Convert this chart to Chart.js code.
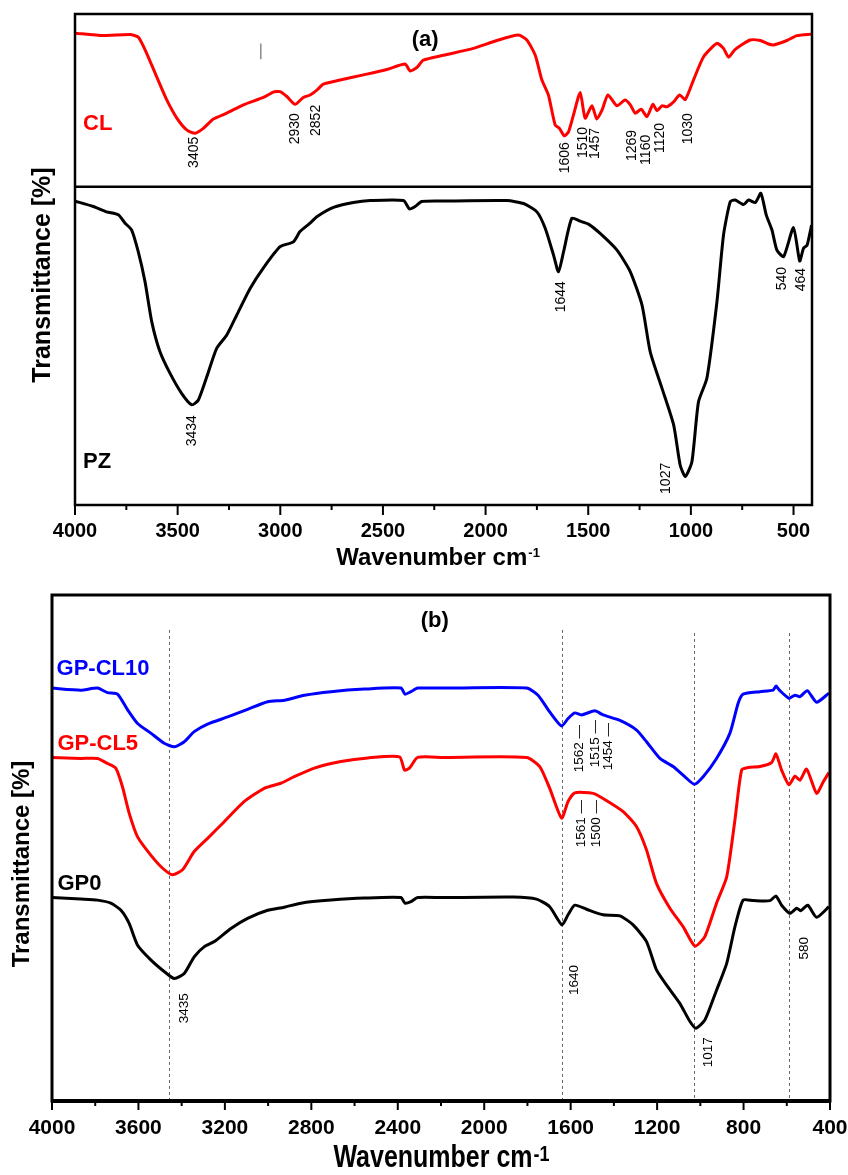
<!DOCTYPE html>
<html>
<head>
  <title>FTIR spectra</title>
  <script src="https://cdn.jsdelivr.net/npm/chart.js"></script>
  <style>
    body { margin: 0; background: white; }
    .panel { position: absolute; left: 0; }
  </style>
</head>
<body>
  <canvas id="chartA" class="panel" style="top:0" width="848" height="580"></canvas>
  <canvas id="chartB" class="panel" style="top:580px" width="848" height="595"></canvas>

  <script>
    // ---- panel (a) ----
    const ticksA = [4000, 3500, 3000, 2500, 2000, 1500, 1000, 500];

    const clWave = [4000, 3862, 3732, 3692, 3651, 3602, 3553, 3504, 3456, 3415, 3375, 3326, 3261, 3180, 3082,
      3034, 3001, 2968, 2928, 2888, 2855, 2822, 2790, 2725, 2595, 2481, 2392, 2368, 2335, 2303, 2205, 2059, 1945,
      1840, 1799, 1758, 1726, 1694, 1661, 1640, 1617, 1596, 1572, 1539, 1515, 1482, 1458, 1433, 1404, 1360, 1320,
      1295, 1271, 1242, 1214, 1185, 1165, 1141, 1117, 1084, 1055, 1027, 987, 938, 873, 841, 816, 784, 711, 662,
      629, 597, 532, 483, 412];
    const clT = [96.1, 95.6, 95.8, 95.3, 92.0, 87.2, 82.5, 78.8, 76.4, 75.7, 76.7, 78.6, 79.8, 81.5, 83.0,
      84.1, 84.2, 83.2, 81.6, 83.0, 83.5, 84.5, 85.7, 86.4, 87.6, 88.7, 89.8, 88.4, 89.1, 90.6, 91.6, 93.0, 94.6,
      95.7, 94.7, 91.6, 86.6, 83.5, 77.4, 76.7, 75.2, 76.0, 79.4, 84.0, 78.8, 81.3, 78.6, 80.4, 83.5, 81.3, 82.5,
      81.5, 79.8, 80.6, 79.1, 81.6, 80.3, 81.3, 81.1, 82.1, 83.5, 82.6, 86.6, 91.3, 94.0, 93.0, 91.2, 92.8, 94.7,
      94.6, 94.0, 93.7, 94.6, 95.6, 95.9];

    const pzWave = [4000, 3911, 3846, 3789, 3756, 3724, 3692, 3659, 3626, 3586, 3537, 3480, 3431, 3399, 3358,
      3310, 3261, 3212, 3147, 3082, 3001, 2936, 2904, 2855, 2822, 2741, 2644, 2562, 2400, 2371, 2343, 2311, 2205,
      1896, 1815, 1750, 1710, 1669, 1645, 1620, 1580, 1539, 1499, 1442, 1360, 1295, 1238, 1198, 1141, 1084, 1052,
      1027, 995, 963, 922, 873, 841, 808, 784, 743, 719, 686, 659, 633, 605, 581, 548, 500, 470, 451, 434, 412];
    const pzT = [61.9, 60.8, 59.7, 59.1, 57.4, 56.0, 51.6, 45.5, 37.3, 31.2, 26.8, 22.7, 20.4, 21.4, 26.1,
      31.9, 34.6, 38.7, 44.1, 48.3, 52.6, 53.6, 55.7, 57.4, 58.7, 60.6, 61.6, 62.0, 62.0, 60.3, 60.8, 61.8, 61.9,
      62.0, 61.4, 59.7, 56.4, 50.9, 47.5, 51.6, 58.4, 57.8, 57.2, 55.3, 51.9, 47.5, 40.7, 31.2, 23.8, 16.3, 8.1,
      5.8, 8.8, 21.0, 25.8, 41.4, 55.0, 61.8, 62.1, 61.2, 62.1, 61.6, 63.5, 59.1, 56.0, 51.9, 50.6, 56.5, 49.7,
      52.3, 52.9, 57.0];

    const peaksA = [
      { t: '3405', w: 3420, v: 75.0 }, { t: '2930', w: 2928, v: 79.8 }, { t: '2852', w: 2826, v: 81.5 },
      { t: '1606', w: 1612, v: 73.9 }, { t: '1510', w: 1526, v: 77.0 }, { t: '1457', w: 1466, v: 76.8 },
      { t: '1269', w: 1287, v: 76.4 }, { t: '1160', w: 1217, v: 75.4 }, { t: '1120', w: 1149, v: 77.8 },
      { t: '1030', w: 1013, v: 79.8 },
      { t: '3434', w: 3431, v: 18.3 }, { t: '1644', w: 1633, v: 45.6 }, { t: '1027', w: 1122, v: 8.6 },
      { t: '540', w: 556, v: 48.5 }, { t: '464', w: 464, v: 48.3 }
    ];
    const namesA = [
      { t: 'CL', w: 3961, v: 76.4, c: '#ff0000' },
      { t: 'PZ', w: 3961, v: 7.5, c: '#000000' }
    ];

    // ---- panel (b) ----
    const ticksB = [4000, 3600, 3200, 2800, 2400, 2000, 1600, 1200, 800, 400];

    const cl10Wave = [4000, 3867, 3789, 3743, 3697, 3650, 3604, 3543, 3481, 3434, 3388, 3342, 3280, 3187, 3095,
      3002, 2925, 2832, 2709, 2555, 2385, 2367, 2339, 2308, 2192, 1804, 1751, 1697, 1642, 1612, 1581, 1550, 1488,
      1450, 1372, 1295, 1249, 1187, 1126, 1072, 1028, 987, 925, 863, 825, 802, 724, 663, 650, 632, 590, 562, 539,
      505, 462, 405];
    const cl10T = [81.6, 81.2, 81.6, 80.7, 80.4, 77.3, 74.6, 72.7, 70.7, 70.0, 71.0, 73.0, 74.5, 75.9, 77.4,
      78.9, 79.2, 80.2, 80.9, 81.4, 81.6, 80.4, 80.9, 81.6, 81.6, 81.6, 80.2, 76.9, 74.1, 75.6, 76.7, 76.3, 77.1,
      76.3, 75.2, 73.3, 71.0, 67.7, 66.1, 64.1, 62.6, 64.1, 67.7, 72.7, 78.6, 80.4, 80.9, 81.2, 82.0, 81.1, 79.6,
      80.2, 79.9, 81.1, 78.8, 80.6];

    const cl5Wave = [4000, 3867, 3789, 3743, 3705, 3674, 3643, 3604, 3543, 3488, 3442, 3396, 3342, 3280, 3203,
      3110, 3018, 2941, 2879, 2786, 2663, 2539, 2392, 2369, 2346, 2308, 2192, 1804, 1743, 1697, 1642, 1612, 1581,
      1496, 1450, 1357, 1295, 1249, 1203, 1141, 1079, 1025, 979, 925, 878, 840, 809, 778, 724, 670, 650, 624, 590,
      562, 539, 508, 462, 431, 405];
    const cl5T = [67.9, 67.7, 67.7, 66.7, 65.8, 62.1, 56.9, 52.2, 48.6, 46.0, 44.7, 45.7, 49.3, 51.9, 55.2,
      59.2, 61.8, 62.8, 64.1, 65.8, 67.1, 67.8, 68.0, 65.4, 65.8, 67.9, 67.9, 67.9, 66.1, 61.8, 55.9, 59.2, 60.9,
      60.8, 59.8, 57.2, 54.2, 49.6, 43.0, 38.1, 34.4, 30.6, 32.5, 39.1, 44.3, 55.5, 65.4, 65.9, 66.1, 66.9, 68.6,
      65.4, 62.5, 64.2, 63.4, 65.6, 60.8, 63.1, 64.9];

    const gp0Wave = [4000, 3867, 3789, 3728, 3681, 3643, 3604, 3543, 3481, 3434, 3388, 3342, 3295, 3249, 3172,
      3095, 3002, 2925, 2848, 2709, 2555, 2385, 2367, 2339, 2308, 2192, 1866, 1758, 1697, 1640, 1612, 1581, 1527,
      1450, 1372, 1311, 1249, 1203, 1156, 1095, 1048, 1021, 979, 925, 878, 840, 802, 755, 678, 650, 624, 585, 554,
      536, 503, 462, 405];
    const gp0T = [40.2, 39.9, 39.7, 39.1, 37.7, 35.1, 30.8, 27.9, 25.6, 24.2, 25.2, 28.5, 30.5, 31.5, 34.1,
      36.1, 37.7, 38.3, 39.1, 39.7, 40.1, 40.2, 39.1, 39.4, 40.2, 40.2, 40.3, 39.9, 38.4, 34.8, 36.8, 38.7, 37.9,
      36.8, 36.6, 34.8, 31.5, 25.9, 22.9, 19.3, 15.7, 14.4, 16.0, 21.9, 27.2, 34.4, 39.7, 39.6, 39.6, 40.5, 38.7,
      37.1, 38.1, 37.6, 38.7, 36.3, 38.4];

    const peaksB = [
      { t: '3435', w: 3388, v: 21.3 },
      { t: '1562 \u2014', w: 1558, v: 74.3 }, { t: '1515 \u2014', w: 1488, v: 75.3 }, { t: '1454 \u2014', w: 1427, v: 74.7 },
      { t: '1561 \u2014', w: 1550, v: 59.5 }, { t: '1500 \u2014', w: 1480, v: 59.5 },
      { t: '1640', w: 1581, v: 26.9 }, { t: '1017', w: 964, v: 12.6 }, { t: '580', w: 519, v: 32.4 }
    ];
    const namesB = [
      { t: 'GP-CL10', w: 3979, v: 84.2, c: '#0000ff' },
      { t: 'GP-CL5', w: 3975, v: 69.4, c: '#ff0000' },
      { t: 'GP0', w: 3975, v: 41.7, c: '#000000' }
    ];
    const guideWave = [3457, 1640, 1029, 590];
    const guideTop = [93.1, 93.1, 92.5, 92.5];

    const SANS = '"Liberation Sans", Arial, sans-serif';
    Chart.defaults.font.family = SANS;
    Chart.defaults.color = '#000';

    function pts(ws, vs) {
      return ws.map((w, i) => ({ x: w, y: vs[i] }));
    }

    function rotText(ctx, text, x, y, align) {
      ctx.save();
      ctx.translate(x, y);
      ctx.rotate(-Math.PI / 2);
      ctx.textAlign = align;
      ctx.textBaseline = 'middle';
      ctx.fillText(text, 0, 0);
      ctx.restore();
    }

    // frame, ticks, titles and peak labels
    function decor(o) {
      return {
        id: 'decor',
        beforeDatasetsDraw(chart) {
          if (!o.guides) return;
          const { ctx, scales: { x, y } } = chart;
          ctx.save();
          ctx.strokeStyle = '#666';
          ctx.lineWidth = 1;
          ctx.setLineDash([3, 3]);
          o.guides.forEach((w, i) => {
            const px = Math.round(x.getPixelForValue(w)) + 0.5;
            ctx.beginPath();
            ctx.moveTo(px, y.getPixelForValue(o.guideTop[i]));
            ctx.lineTo(px, y.getPixelForValue(0));
            ctx.stroke();
          });
          ctx.restore();
        },
        afterDatasetsDraw(chart) {
          const { ctx, chartArea: a, scales: { x, y } } = chart;
          ctx.save();
          ctx.strokeStyle = '#000';
          ctx.fillStyle = '#000';

          // box and dividers
          ctx.lineWidth = o.frame;
          ctx.strokeRect(a.left, a.top, a.right - a.left, a.bottom - a.top);
          (o.dividers || []).forEach(v => {
            const py = y.getPixelForValue(v);
            ctx.beginPath();
            ctx.moveTo(a.left, py);
            ctx.lineTo(a.right, py);
            ctx.stroke();
          });
          if (o.bottom) {
            ctx.lineWidth = o.bottom;
            ctx.beginPath();
            ctx.moveTo(a.left, a.bottom);
            ctx.lineTo(a.right, a.bottom);
            ctx.stroke();
          }

          // outward ticks, long on labelled values, short half way
          ctx.lineWidth = 2;
          o.ticks.forEach((t, i) => {
            const marks = [[t, o.major]];
            if (i < o.ticks.length - 1) marks.push([(t + o.ticks[i + 1]) / 2, o.minor]);
            marks.forEach(([w, len]) => {
              const px = x.getPixelForValue(w);
              ctx.beginPath();
              ctx.moveTo(px, a.bottom);
              ctx.lineTo(px, a.bottom + len);
              ctx.stroke();
            });
          });

          // stray mark in the CL box
          if (o.stray) {
            ctx.strokeStyle = '#8a8a8a';
            ctx.lineWidth = 1.5;
            const px = x.getPixelForValue(o.stray.w);
            ctx.beginPath();
            ctx.moveTo(px, y.getPixelForValue(o.stray.v1));
            ctx.lineTo(px, y.getPixelForValue(o.stray.v2));
            ctx.stroke();
          }

          // peak positions
          ctx.fillStyle = '#000';
          ctx.font = o.peakFont;
          o.peaks.forEach(p => rotText(ctx, p.t, x.getPixelForValue(p.w), y.getPixelForValue(p.v), 'right'));

          // sample names
          ctx.font = 'bold 22px ' + SANS;
          ctx.textAlign = 'left';
          ctx.textBaseline = 'alphabetic';
          o.names.forEach(n => {
            ctx.fillStyle = n.c;
            ctx.fillText(n.t, x.getPixelForValue(n.w), y.getPixelForValue(n.v));
          });

          // panel letter
          ctx.fillStyle = '#000';
          ctx.font = 'bold 22px ' + SANS;
          ctx.textAlign = 'center';
          ctx.textBaseline = 'middle';
          ctx.fillText(o.panel.t, x.getPixelForValue(o.panel.w), y.getPixelForValue(o.panel.v));

          // x title with superscript
          const xt = o.xTitle;
          const cx = (a.left + a.right) / 2 + xt.dx;
          ctx.save();
          ctx.translate(0, a.bottom + xt.dy);
          ctx.scale(1, xt.sy);
          ctx.textAlign = 'left';
          ctx.textBaseline = 'alphabetic';
          const main = 'Wavenumber cm';
          ctx.font = 'bold ' + xt.size + 'px ' + SANS;
          const wm = ctx.measureText(main).width;
          ctx.font = 'bold ' + xt.sup + 'px ' + SANS;
          const ws = ctx.measureText('-1').width;
          const x0 = cx - (wm + ws) / 2;
          ctx.fillText('-1', x0 + wm + 1, -0.716 * xt.size + 0.716 * xt.sup);
          ctx.font = 'bold ' + xt.size + 'px ' + SANS;
          ctx.fillText(main, x0, 0);
          ctx.restore();

          // y title
          ctx.font = 'bold ' + o.yTitle.size + 'px ' + SANS;
          rotText(ctx, 'Transmittance [%]', a.left + o.yTitle.dx, o.yTitle.cy, 'center');
          ctx.restore();
        }
      };
    }

    function baseOptions(min, ticks, pad, axisH, tickSize, tickPad) {
      return {
        responsive: false,
        animation: false,
        layout: { padding: pad },
        elements: { point: { radius: 0 }, line: { tension: 0.2, borderWidth: 3 } },
        plugins: { legend: { display: false }, tooltip: { enabled: false } },
        scales: {
          x: {
            type: 'linear', reverse: true, min: min, max: 4000,
            grid: { display: false, drawTicks: false },
            border: { display: false },
            afterBuildTicks: s => { s.ticks = ticks.map(v => ({ value: v })); },
            afterFit: s => { s.height = axisH; s.paddingLeft = 0; s.paddingRight = 0; },
            ticks: { autoSkip: false, maxRotation: 0, padding: tickPad, color: '#000',
              font: { size: tickSize, weight: 'bold' },
              callback: v => String(v) }
          },
          y: { display: false, min: 0, max: 100 }
        }
      };
    }

    new Chart(document.getElementById('chartA'), {
      type: 'line',
      data: {
        datasets: [
          { label: 'CL', data: pts(clWave, clT), borderColor: '#ff0000' },
          { label: 'PZ', data: pts(pzWave, pzT), borderColor: '#000000' }
        ]
      },
      options: baseOptions(410, ticksA, { left: 75, right: 36, top: 14, bottom: 0 }, 75, 20, 14),
      plugins: [decor({
        frame: 2.5, dividers: [64.8], ticks: ticksA, major: 10, minor: 5,
        stray: { w: 3095, v1: 90.8, v2: 94.0 },
        peaks: peaksA, peakFont: '14px ' + SANS,
        names: namesA, panel: { t: '(a)', w: 2294, v: 94.7 },
        xTitle: { size: 24, sup: 13, sy: 1, dx: -6, dy: 60 },
        yTitle: { size: 25, dx: -32, cy: 275 }
      })]
    });

    new Chart(document.getElementById('chartB'), {
      type: 'line',
      data: {
        datasets: [
          { label: 'GP-CL10', data: pts(cl10Wave, cl10T), borderColor: '#0000ff' },
          { label: 'GP-CL5', data: pts(cl5Wave, cl5T), borderColor: '#ff0000' },
          { label: 'GP0', data: pts(gp0Wave, gp0T), borderColor: '#000000' }
        ]
      },
      options: baseOptions(400, ticksB, { left: 52, right: 18, top: 15, bottom: 0 }, 74, 21, 15),
      plugins: [decor({
        frame: 3, bottom: 4, ticks: ticksB, major: 9, minor: 5,
        guides: guideWave, guideTop: guideTop,
        peaks: peaksB, peakFont: '13.5px ' + SANS,
        names: namesB, panel: { t: '(b)', w: 2229, v: 94.9 },
        xTitle: { size: 25, sup: 18, sy: 1.25, dx: 0, dy: 66 },
        yTitle: { size: 24, dx: -30, cy: 284 }
      })]
    });
  </script>
</body>
</html>
